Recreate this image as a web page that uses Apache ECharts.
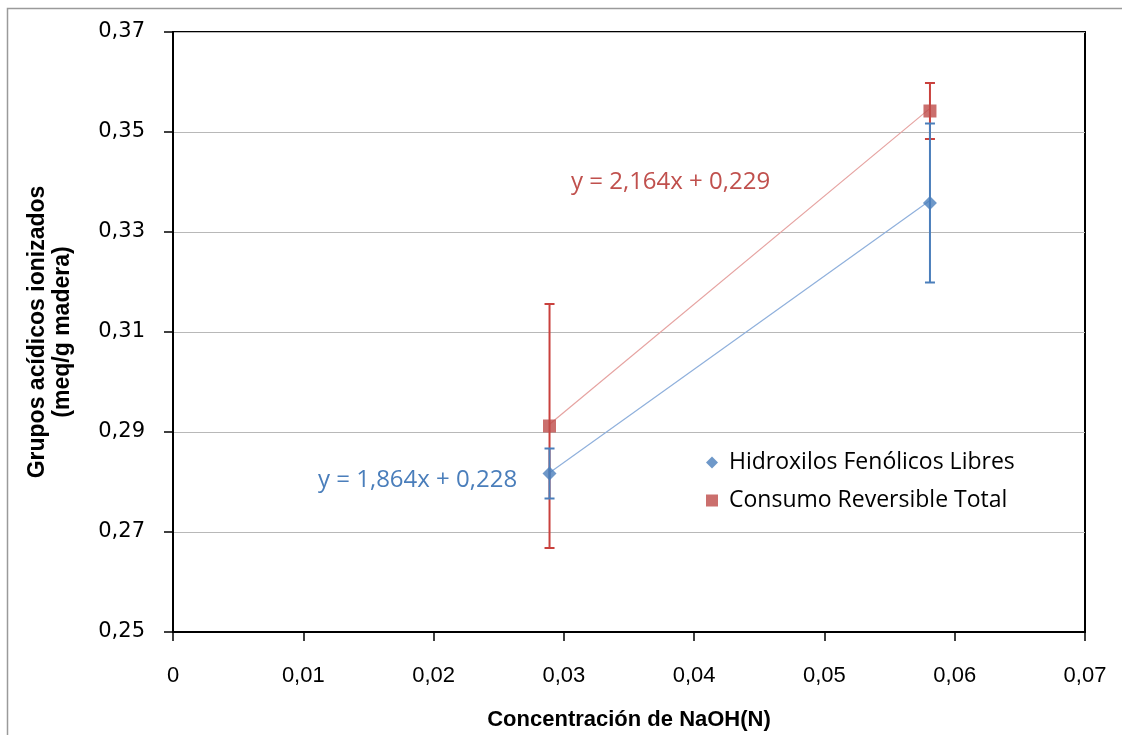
<!DOCTYPE html>
<html>
<head>
<meta charset="utf-8">
<script src="https://cdn.jsdelivr.net/npm/echarts@6/dist/echarts.min.js"></script>
<style>
  html, body { margin: 0; padding: 0; background: #fff; }
  #chart { width: 1122px; height: 735px; }
</style>
</head>
<body>
<div id="chart"></div>
<script>
// datos
var concNaOH = [0.0289, 0.0581];
var hidroxilos = [0.2817, 0.3358];
var hidroxilosErr = [0.0050, 0.0159];
var consumo = [0.2912, 0.3542];
var consumoErr = [0.0244, 0.0056];
// rectas de tendencia (pendiente, ordenada)
var tendHidroxilos = [1.864, 0.228];
var tendConsumo = [2.164, 0.229];

var azul = '#4a7ebb';
var rojo = '#be4b48';

function puntos(xs, ys) {
  return xs.map(function (x, i) { return [x, ys[i]]; });
}
function barras(xs, ys, err) {
  return xs.map(function (x, i) { return [x, ys[i] - err[i], ys[i] + err[i]]; });
}
function recta(t) {
  return concNaOH.map(function (x) { return [x, t[0] * x + t[1]]; });
}
function coma(v, d) {
  return v.toFixed(d).replace('.', ',');
}

// barras de error
function errorBar(color) {
  return function (params, api) {
    var x = api.value(0);
    var lo = api.coord([x, api.value(1)]);
    var hi = api.coord([x, api.value(2)]);
    var w = 5;
    var st = { stroke: color, lineWidth: 2 };
    return {
      type: 'group',
      children: [
        { type: 'line', shape: { x1: lo[0], y1: lo[1], x2: hi[0], y2: hi[1] }, style: st },
        { type: 'line', shape: { x1: lo[0] - w, y1: lo[1], x2: lo[0] + w, y2: lo[1] }, style: st },
        { type: 'line', shape: { x1: hi[0] - w, y1: hi[1], x2: hi[0] + w, y2: hi[1] }, style: st }
      ]
    };
  };
}

var chart = echarts.init(document.getElementById('chart'));
chart.setOption({
  animation: false,
  grid: {
    left: 173, right: 37, top: 32, bottom: 103,
    outerBoundsMode: 'none', containLabel: false,
    show: true, borderColor: '#000', borderWidth: 2
  },
  legend: {
    orient: 'vertical',
    left: 701,
    top: 446,
    itemWidth: 12,
    itemHeight: 12,
    itemGap: 15,
    textStyle: { fontFamily: 'Open Sans', fontSize: 23, color: '#000', padding: [0, 0, 0, 6] },
    data: [
      { name: 'Hidroxilos Fenólicos Libres', icon: 'diamond' },
      { name: 'Consumo Reversible Total', icon: 'rect' }
    ]
  },
  xAxis: {
    type: 'value',
    min: 0,
    max: 0.07,
    interval: 0.01,
    name: 'Concentración de NaOH(N)',
    nameLocation: 'middle',
    nameGap: 77,
    nameTextStyle: { fontFamily: 'Liberation Sans', fontWeight: 'bold', fontSize: 22, color: '#000' },
    axisLine: { lineStyle: { color: '#000', width: 2 } },
    axisTick: { show: true, length: 9, lineStyle: { color: '#000', width: 1.5 } },
    axisLabel: {
      margin: 33,
      fontFamily: 'Liberation Sans',
      fontSize: 22,
      color: '#000',
      formatter: function (v) { return v === 0 ? '0' : coma(v, 2); }
    },
    splitLine: { show: false }
  },
  yAxis: {
    type: 'value',
    min: 0.25,
    max: 0.37,
    interval: 0.02,
    name: 'Grupos acídicos ionizados\n(meq/g madera)',
    nameLocation: 'middle',
    nameGap: 98,
    nameTextStyle: { fontFamily: 'Liberation Sans', fontWeight: 'bold', fontSize: 23, color: '#000', lineHeight: 25 },
    axisLine: { lineStyle: { color: '#000', width: 2 } },
    axisTick: { show: true, length: 9, lineStyle: { color: '#000', width: 1.5 } },
    axisLabel: {
      margin: 28,
      fontFamily: 'DejaVu Sans',
      fontSize: 21,
      color: '#000',
      formatter: function (v) { return coma(v, 2); }
    },
    splitLine: { lineStyle: { color: '#b8b8b8', width: 1 } }
  },
  graphic: [
    { type: 'rect', silent: true, shape: { x: 7.5, y: 8.5, width: 1300, height: 900 }, style: { fill: 'none', stroke: '#9a9a9a', lineWidth: 1.5 }, z: -1 },
    { type: 'text', left: 318, top: 468, style: { text: 'y = ' + coma(tendHidroxilos[0], 3) + 'x + ' + coma(tendHidroxilos[1], 3), fill: azul, font: '24px "Open Sans"' } },
    { type: 'text', left: 571, top: 170, style: { text: 'y = ' + coma(tendConsumo[0], 3) + 'x + ' + coma(tendConsumo[1], 3), fill: '#c0504d', font: '24px "Open Sans"' } }
  ],
  series: [
    {
      name: 'tendencia hidroxilos',
      type: 'line',
      data: recta(tendHidroxilos),
      symbol: 'none',
      lineStyle: { color: '#8fb0dc', width: 1.2 },
      z: 1
    },
    {
      name: 'tendencia consumo',
      type: 'line',
      data: recta(tendConsumo),
      symbol: 'none',
      lineStyle: { color: '#e6a3a1', width: 1.2 },
      z: 1
    },
    {
      name: 'err consumo',
      type: 'custom',
      renderItem: errorBar('#c9413d'),
      data: barras(concNaOH, consumo, consumoErr),
      z: 2
    },
    {
      name: 'err hidroxilos',
      type: 'custom',
      renderItem: errorBar(azul),
      data: barras(concNaOH, hidroxilos, hidroxilosErr),
      z: 3
    },
    {
      name: 'Hidroxilos Fenólicos Libres',
      type: 'scatter',
      symbol: 'diamond',
      symbolSize: 14,
      itemStyle: { color: azul },
      data: puntos(concNaOH, hidroxilos),
      z: 5
    },
    {
      name: 'Consumo Reversible Total',
      type: 'scatter',
      symbol: 'rect',
      symbolSize: 13,
      itemStyle: { color: rojo },
      data: puntos(concNaOH, consumo),
      z: 5
    }
  ]
});
</script>
</body>
</html>
